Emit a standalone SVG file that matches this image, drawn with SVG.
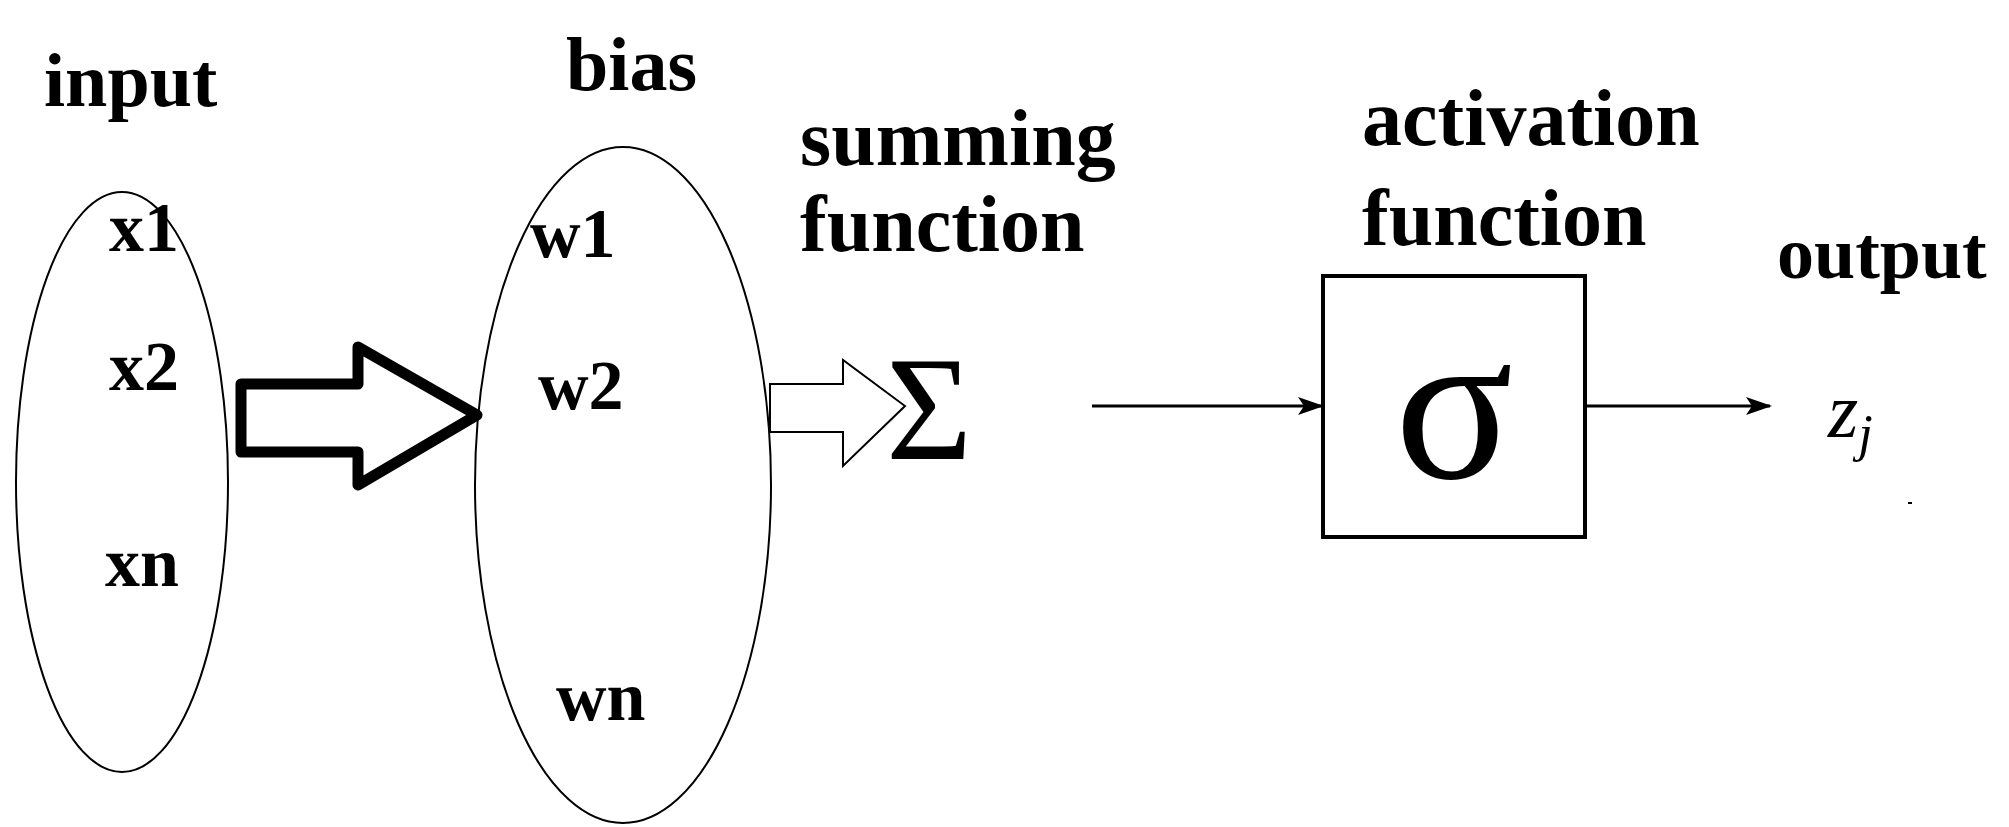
<svg xmlns="http://www.w3.org/2000/svg" width="2009" height="827" viewBox="0 0 2009 827">
<style>
.t{font-family:"Liberation Serif",serif;font-weight:bold;fill:#000}
.l{font-size:76px}
.m{font-size:80px}
.s{font-size:70px}
.e{fill:none;stroke:#000;stroke-width:2}
</style>
<defs><marker id="a" markerWidth="26" markerHeight="18" refX="24" refY="9" orient="auto" markerUnits="userSpaceOnUse"><path d="M0,0 L26,9 L0,18 L6,9 Z" fill="#000"/></marker></defs>
<rect width="2009" height="827" fill="#fff"/>
<g id="input"><ellipse class="e" cx="122" cy="482" rx="106" ry="290"/><text class="t l" x="44" y="106">input</text><text class="t s" x="109" y="251">x1</text><text class="t s" x="109" y="390">x2</text><text class="t s" x="105" y="586">xn</text></g>
<g id="bias"><ellipse class="e" cx="623" cy="485" rx="148" ry="338"/><text class="t l" x="566" y="90">bias</text><text class="t s" x="530" y="257">w1</text><text class="t s" x="538" y="409">w2</text><text class="t s" x="556" y="720">wn</text></g>
<g id="summing"><text class="t m" x="800" y="165">summing</text><text class="t m" x="800" y="251">function</text><text x="886" y="459" font-family="Liberation Serif,serif" font-size="148">Σ</text></g>
<g id="activation"><text class="t m" x="1362" y="145">activation</text><text class="t m" x="1362" y="245">function</text><rect x="1323" y="276" width="262" height="261" fill="none" stroke="#000" stroke-width="4"/><text x="1454" y="478" text-anchor="middle" font-family="Liberation Serif,serif" font-size="220">σ</text></g>
<g id="output"><text class="t m" x="1777" y="278" font-size="74" style="font-size:74px">output</text><text x="1828" y="437" font-family="Liberation Serif,serif" font-style="italic" font-size="78">z<tspan font-size="52" dy="14">j</tspan></text><rect x="1908" y="502" width="4" height="2" fill="#000"/></g>
<g id="connectors">
<path d="M241,384 H358 V347 L477,415 L358,485 V452 H241 Z" fill="#fff" stroke="#000" stroke-width="11" stroke-linejoin="round"/>
<path d="M770,384 H843 V360 L905,406 L843,466 V432 H770 Z" fill="#fff" stroke="#000" stroke-width="2"/>
<line x1="1092" y1="406" x2="1322" y2="406" stroke="#000" stroke-width="3" marker-end="url(#a)"/>
<line x1="1585" y1="406" x2="1770" y2="406" stroke="#000" stroke-width="3" marker-end="url(#a)"/>
</g>
</svg>
